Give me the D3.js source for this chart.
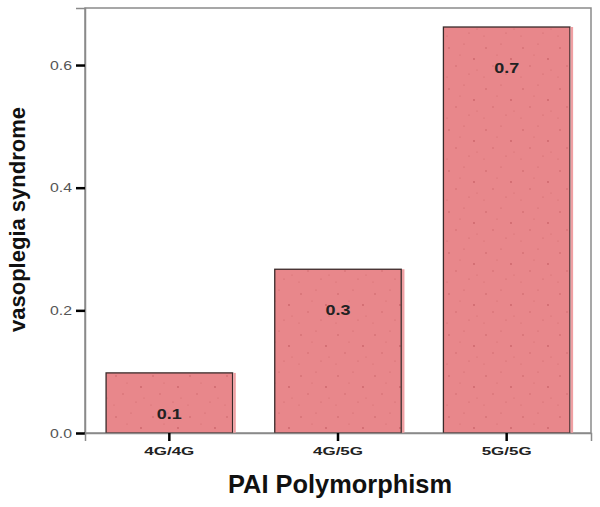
<!DOCTYPE html>
<html><head><meta charset="utf-8">
<script src="https://cdn.jsdelivr.net/npm/d3@7"></script>
<style>body{margin:0;background:#fff}svg{display:block}</style>
</head><body><svg id="c" width="600" height="507"></svg>
<script>
const categories = ["4G/4G", "4G/5G", "5G/5G"];
const values = [0.098, 0.267, 0.662];
const barLabels = ["0.1", "0.3", "0.7"];
const yTicks = [0.0, 0.2, 0.4, 0.6];

const FONT = "Liberation Sans, Arial, sans-serif";
const svg = d3.select("#c");
const L = 85, R = 591, T = 8, B = 433;
const x = d3.scaleBand().domain(categories).range([L, R]).paddingInner(0.25).paddingOuter(0.125);
const y = d3.scaleLinear().domain([0, 0.693]).range([B, T]);

// speckle pattern
const defs = svg.append("defs");
const pat = defs.append("pattern").attr("id","sp").attr("patternUnits","userSpaceOnUse").attr("width",37).attr("height",41);
pat.append("rect").attr("width",37).attr("height",41).attr("fill","#e8878b");
[[5,7,0.8],[20,3,0.6],[30,18,0.9],[12,25,0.7],[25,33,0.6],[3,36,0.5],[33,29,0.5],[16,14,0.5]].forEach(d=>{
  pat.append("circle").attr("cx",d[0]).attr("cy",d[1]).attr("r",d[2]).attr("fill","#c0555c").attr("opacity",0.7);
});

// frame
svg.append("rect").attr("x",L).attr("y",T).attr("width",R-L).attr("height",B-T)
  .attr("fill","none").attr("stroke","#8a8a8a").attr("stroke-width",1.5);

// bars
const g = svg.append("g");
g.selectAll("rect.bar").data(values).join("rect").attr("class","bar")
  .attr("x",(d,i)=>x(categories[i])).attr("y",d=>y(d))
  .attr("width",x.bandwidth()).attr("height",d=>B-y(d))
  .attr("fill","url(#sp)").attr("stroke","#3a2a2a").attr("stroke-width",1.3);
g.selectAll("rect.edge").data(values).join("rect").attr("class","edge")
  .attr("x",(d,i)=>x(categories[i])+x.bandwidth()+0.7).attr("y",d=>y(d))
  .attr("width",2.5).attr("height",d=>B-y(d)).attr("fill","#f0a0a3");

g.selectAll("text.lbl").data(values).join("text").attr("class","lbl")
  .attr("x",(d,i)=>x(categories[i])+x.bandwidth()/2).attr("y",d=>y(d)+46)
  .attr("text-anchor","middle")
  .attr("font-family",FONT).attr("font-weight","bold")
  .attr("font-size",15.5).attr("fill","#222")
  .attr("textLength",25).attr("lengthAdjust","spacingAndGlyphs")
  .text((d,i)=>barLabels[i]);

// y axis
const ya = svg.append("g").attr("transform",`translate(${L},0)`)
  .call(d3.axisLeft(y).tickValues(yTicks).tickFormat(d3.format(".1f")).tickSize(9).tickPadding(4));
ya.select(".domain").attr("stroke","#8a8a8a").attr("stroke-width",1.5);
ya.selectAll(".tick line").attr("stroke","#000").attr("stroke-width",2.5);
ya.selectAll(".tick text").attr("font-family",FONT)
  .attr("font-size",12.5).attr("fill","#555")
  .attr("textLength",22).attr("lengthAdjust","spacingAndGlyphs");

// x axis
const xa = svg.append("g").attr("transform",`translate(0,${B})`)
  .call(d3.axisBottom(x).tickSize(8).tickPadding(6));
xa.select(".domain").attr("stroke","#8a8a8a").attr("stroke-width",1.5);
xa.selectAll(".tick line").attr("stroke","#000").attr("stroke-width",2.5);
xa.selectAll(".tick text").attr("font-family",FONT)
  .attr("font-size",11.5).attr("font-weight","bold").attr("fill","#222")
  .attr("textLength",50).attr("lengthAdjust","spacingAndGlyphs");

// titles
svg.append("text").attr("x",340).attr("y",493).attr("text-anchor","middle")
  .attr("font-family",FONT).attr("font-weight","bold")
  .attr("font-size",25.5).attr("fill","#111")
  .attr("textLength",224).attr("lengthAdjust","spacingAndGlyphs")
  .text("PAI Polymorphism");
svg.append("text").attr("transform",`translate(25,219.5) rotate(-90)`).attr("text-anchor","middle")
  .attr("font-family",FONT).attr("font-weight","bold")
  .attr("font-size",22).attr("fill","#111")
  .attr("textLength",225).attr("lengthAdjust","spacingAndGlyphs")
  .text("vasoplegia syndrome");
</script></body></html>
